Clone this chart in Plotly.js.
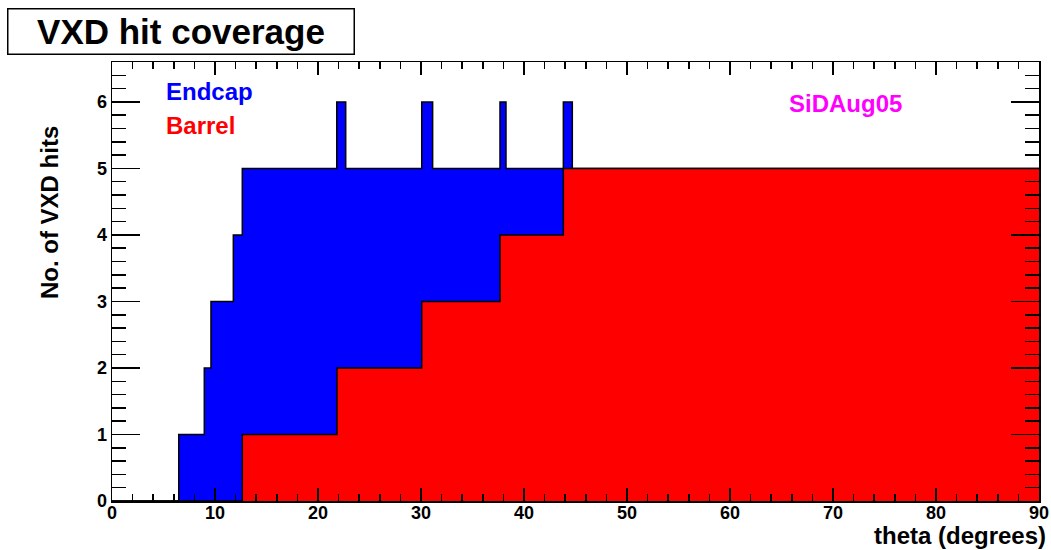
<!DOCTYPE html>
<html>
<head>
<meta charset="utf-8">
<script src="https://cdn.plot.ly/plotly-3.0.1.min.js"></script>
<style>html,body{margin:0;padding:0;background:#fff;}#chart{width:1051px;height:550px;}</style>
</head>
<body>
<div id="chart"></div>
<script>
// Endcap histogram: bin edges (theta, degrees) and hit counts per bin
var endcapEdges = [0, 6.48, 8.96, 9.61, 11.78, 12.65, 21.82, 22.69, 30.07, 31.13, 37.67, 38.25, 43.82, 44.69, 90];
var endcapHits  = [0, 1, 2, 3, 4, 5, 6, 5, 6, 5, 6, 5, 6, 5];
// Barrel histogram
var barrelEdges = [0, 12.65, 21.84, 30.07, 37.67, 43.82, 90];
var barrelHits  = [0, 1, 2, 3, 4, 5];

var xTickVals = [0, 10, 20, 30, 40, 50, 60, 70, 80, 90];
var yTickVals = [0, 1, 2, 3, 4, 5, 6];

var FONT = "Liberation Sans, Arial, Helvetica, sans-serif";

function stepTrace(edges, vals, color) {
  return {
    type: 'scatter', mode: 'lines',
    x: edges,
    y: vals.concat([vals[vals.length - 1]]),
    line: {shape: 'hv', color: 'black', width: 1.5},
    fill: 'tozeroy', fillcolor: color,
    hoverinfo: 'skip', showlegend: false
  };
}

var data = [
  stepTrace(endcapEdges, endcapHits, '#0000ff'),
  stepTrace(barrelEdges, barrelHits, '#ff0000')
];

var layout = {
  width: 1051, height: 550,
  margin: {l: 112, r: 12, t: 62, b: 49},
  paper_bgcolor: '#ffffff', plot_bgcolor: '#ffffff',
  showlegend: false,
  xaxis: {
    range: [0, 90], tickvals: xTickVals, ticktext: xTickVals.map(String),
    ticks: 'inside', ticklen: 13, tickwidth: 1.5, tickcolor: 'black',
    minor: {dtick: 2, ticks: 'inside', ticklen: 7, tickwidth: 1.5, tickcolor: 'black', showgrid: false},
    showline: true, linecolor: 'black', linewidth: 1.5, mirror: 'allticks',
    showgrid: false, zeroline: false, ticklabelstandoff: -5,
    tickfont: {family: FONT, size: 18, color: 'black', weight: 'bold'}
  },
  yaxis: {
    range: [0, 6.6], tickvals: yTickVals, ticktext: yTickVals.map(String),
    ticks: 'inside', ticklen: 28, tickwidth: 1.5, tickcolor: 'black',
    minor: {dtick: 0.2, ticks: 'inside', ticklen: 14, tickwidth: 1.5, tickcolor: 'black', showgrid: false},
    showline: true, linecolor: 'black', linewidth: 1.5, mirror: 'allticks',
    showgrid: false, zeroline: false,
    tickfont: {family: FONT, size: 18, color: 'black', weight: 'bold'}
  },
  annotations: [
    {text: 'VXD hit coverage', xref: 'paper', yref: 'paper', x: 0.0739, y: 1.0706,
     xanchor: 'center', yanchor: 'middle', showarrow: false,
     width: 345, height: 44, borderpad: 0, bordercolor: 'black', borderwidth: 1.5,
     bgcolor: 'white', font: {family: FONT, size: 35, color: 'black', weight: 'bold'}},
    {text: 'Endcap', xref: 'x', yref: 'y', x: 5.0, y: 6.15, xanchor: 'left', yanchor: 'middle',
     showarrow: false, font: {family: FONT, size: 24, color: '#0000ff', weight: 'bold'}},
    {text: 'Barrel', xref: 'x', yref: 'y', x: 5.0, y: 5.64, xanchor: 'left', yanchor: 'middle',
     showarrow: false, font: {family: FONT, size: 24, color: '#ff0000', weight: 'bold'}},
    {text: 'SiDAug05', xref: 'x', yref: 'y', x: 65.5, y: 5.97, xanchor: 'left', yanchor: 'middle',
     showarrow: false, font: {family: FONT, size: 24, color: '#ff00ff', weight: 'bold'}},
    {text: 'theta (degrees)', xref: 'paper', yref: 'paper', x: 1.0097, y: -0.0797,
     xanchor: 'right', yanchor: 'middle', showarrow: false,
     font: {family: FONT, size: 24, color: 'black', weight: 'bold'}},
    {text: 'No. of VXD hits', xref: 'paper', yref: 'paper', x: -0.068, y: 0.658,
     xanchor: 'center', yanchor: 'middle', textangle: -90, showarrow: false,
     font: {family: FONT, size: 24, color: 'black', weight: 'bold'}}
  ]
};

Plotly.newPlot('chart', data, layout, {displayModeBar: false, staticPlot: true});
</script>
</body>
</html>
